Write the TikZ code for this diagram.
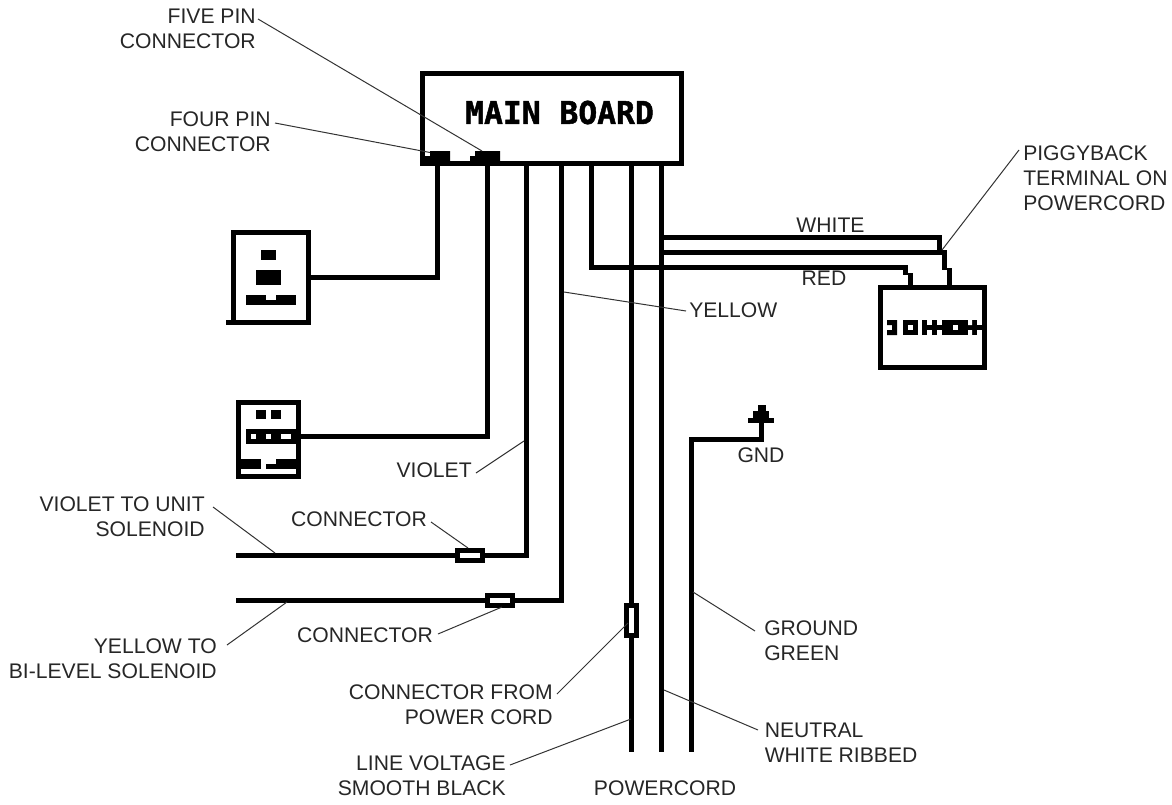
\documentclass[tikz,border=0pt]{standalone}
\usepackage{fontspec}
\setmainfont{Liberation Sans}
\newfontfamily\pixelfont[FakeBold=1.5]{DejaVu Sans Mono Bold}
\tikzset{
  x=0.75pt,y=-0.75pt,
  wire/.style={draw=black,line width=3.75pt,line cap=butt,line join=miter},
  thick box/.style={draw=black,line width=3.75pt,fill=white,outer sep=0pt,inner sep=0pt,anchor=north west},
  ink/.style={fill=black,draw=none},
  leader/.style={draw=black!80,line width=0.75pt},
  lab/.style={font=\fontsize{15.85pt}{18.75pt}\selectfont,align=center,inner sep=0pt,text=black!85},
  labl/.style={lab,align=left,anchor=west},
  labr/.style={lab,align=right,anchor=east},
  conn/.style={draw=black,line width=3.75pt,fill=white,inner sep=0pt,outer sep=0pt}
}
\begin{document}
\begin{tikzpicture}
\useasboundingbox (0,0) rectangle (1172,804);
% main board
\node[thick box,minimum width=194.25pt,minimum height=67.5pt] (board) at (422.5,73.5) {};
\node[inner sep=0pt,font=\pixelfont\fontsize{23.5pt}{23.5pt}\selectfont] (boardtxt) at (559.5,112.5) {MAIN BOARD};
\fill[ink] (430,151) rectangle (450,161) (425,156) rectangle (430,161);
\fill[ink] (475,151) rectangle (500,161) (470,156) rectangle (475,161);
\coordinate (p1) at (437.5,164);
\coordinate (p2) at (487.5,164);
\coordinate (p3) at (526.5,164);
\coordinate (p4) at (561.5,164);
\coordinate (p5) at (591.5,164);
\coordinate (p6) at (631.5,164);
\coordinate (p7) at (661.5,164);
% outlet
\draw[wire] (226,322.5) -- (308.5,322.5) -- (308.5,232.5) -- (233.5,232.5) -- (233.5,322.5);
\fill[ink] (261,250) rectangle (276,260);
\fill[ink] (256,270) rectangle (281,285);
\fill[ink] (246,295) rectangle (266,305);
\fill[ink] (266,300) rectangle (276,305);
\fill[ink] (276,295) rectangle (296,305);
\coordinate (outlet) at (311,277.5);
\draw[wire] (p1) -- (437.5,277.5) -- (outlet);
% switch
\draw[wire] (238.5,402.5) rectangle (298.5,476.5);
\fill[ink] (256,410) rectangle (266,419);
\fill[ink] (271,410) rectangle (281,419);
\fill[ink] (246,429) rectangle (301,444);
\fill[white] (251,434) rectangle (256,439);
\fill[white] (266,434) rectangle (271,439);
\fill[white] (281,434) rectangle (291,439);
\fill[ink] (240,459) rectangle (261,469);
\fill[ink] (266,464) rectangle (276,469);
\fill[ink] (276,459) rectangle (297,469);
\coordinate (switch) at (300,436.5);
\draw[wire] (p2) -- (487.5,436.5) -- (switch);
% violet / yellow
\coordinate (vend) at (236,555.5);
\coordinate (yend) at (236,600.5);
\draw[wire] (p3) -- (526.5,555.5) -- (vend);
\draw[wire] (p4) -- (561.5,600.5) -- (yend);
\node[conn,minimum width=18.75pt,minimum height=7.5pt] (cv) at (470,555.5) {};
\node[conn,minimum width=18.75pt,minimum height=7.5pt] (cy) at (500,600.5) {};
% powercord
\coordinate (line) at (631.5,751.5);
\coordinate (neut) at (661.5,751.5);
\coordinate (gnd) at (691.5,751.5);
\coordinate (gtop) at (761.5,420);
\draw[wire] (p6) -- (line);
\draw[wire] (p7) -- (neut);
\draw[wire] (gnd) -- (691.5,439.5) -- (761.5,439.5) -- (gtop);
\fill[ink] (758,405) rectangle (766,411);
\fill[ink] (753,411) rectangle (769,418);
\fill[ink] (748,418) rectangle (774,423);
\node[conn,minimum width=7.5pt,minimum height=22.5pt] (cp) at (631.5,620.5) {};
% red, white to relay
\node[thick box,minimum width=78pt,minimum height=60pt] (relay) at (880.5,287.5) {};
\draw[wire] (p7) -- (661.5,237.5) -- (939.5,237.5) -- (939.5,252.5);
\draw[wire] (661.5,252.5) -- (944.5,252.5) -- (944.5,270);
\draw[wire] (949.5,268) -- (949.5,286);
\draw[wire] (p5) -- (591.5,267.5) -- (905.5,267.5) -- (905.5,275);
\draw[wire] (910.5,273) -- (910.5,286);
\fill[ink] (892,320) rectangle (897,335) (887,320) rectangle (892,325) (887,330) rectangle (892,335);
\fill[ink] (903,320) rectangle (918,335);
\fill[white] (908,325) rectangle (913,330);
\fill[ink] (922,320) rectangle (927,335);
\fill[ink] (927,325) rectangle (932,330);
\fill[ink] (932,320) rectangle (937,335);
\fill[ink] (937,325) rectangle (942,330);
\fill[ink] (942,320) rectangle (977,335);
\fill[white] (953,325) rectangle (958,330);
\fill[white] (968,320) rectangle (972,325) (968,330) rectangle (972,335);
\fill[ink] (977,325) rectangle (982,330);
% labels
\node[labr] (t5) at (256,29) {FIVE PIN\\CONNECTOR};
\node[labr] (t4) at (271,132) {FOUR PIN\\CONNECTOR};
\node[lab] (tw) at (830.5,225) {WHITE};
\node[lab] (tr) at (824,278) {RED};
\node[labl] (ty) at (689,310) {YELLOW};
\node[labl] (tp) at (1023,178) {PIGGYBACK\\TERMINAL ON\\POWERCORD};
\node[lab] (tgnd) at (761,455) {GND};
\node[labr] (tv) at (472,470) {VIOLET};
\node[labr] (tvs) at (205,516.5) {VIOLET TO UNIT\\SOLENOID};
\node[lab] (tc1) at (359,519) {CONNECTOR};
\node[lab] (tc2) at (365,635) {CONNECTOR};
\node[labr] (tys) at (217,658.5) {YELLOW TO\\BI-LEVEL SOLENOID};
\node[labr] (tcp) at (553,705) {CONNECTOR FROM\\POWER CORD};
\node[labr] (tl) at (506,776) {LINE VOLTAGE\\SMOOTH BLACK};
\node[labl] (tn) at (764.5,743) {NEUTRAL\\WHITE RIBBED};
\node[labl] (tg) at (764,641) {GROUND\\GREEN};
\node[lab] (tpc) at (665,788) {POWERCORD};
% leaders
\draw[leader] (258,19) -- (482,151);
\draw[leader] (275,123) -- (430,152.5);
\draw[leader] (1019,150) -- (942,250);
\draw[leader] (686,311) -- (564,292);
\draw[leader] (476,473) -- (524,441);
\draw[leader] (213,507) -- (275,553);
\draw[leader] (431,522) -- (468,548);
\draw[leader] (227,645) -- (287,602);
\draw[leader] (438,634) -- (502,607);
\draw[leader] (557,694) -- (628,623);
\draw[leader] (510,765) -- (631,719);
\draw[leader] (758,730) -- (664,690);
\draw[leader] (755,631) -- (693,592);
\end{tikzpicture}
\end{document}
